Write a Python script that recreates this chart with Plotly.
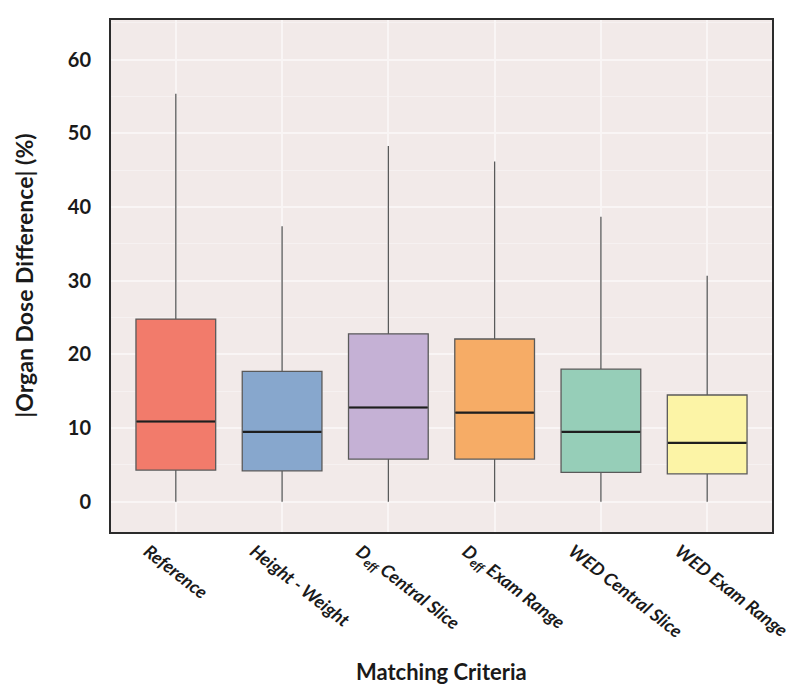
import plotly.graph_objects as go

# box statistics (|organ dose difference|, %)
categories = [
    "Reference",
    "Height - Weight",
    "D<sub>eff</sub> Central Slice",
    "D<sub>eff</sub> Exam Range",
    "WED Central Slice",
    "WED Exam Range",
]
lower = [0.0, 0.0, 0.0, 0.0, 0.0, 0.0]
q1 = [4.3, 4.2, 5.8, 5.8, 4.0, 3.8]
median = [10.9, 9.5, 12.8, 12.1, 9.5, 8.0]
q3 = [24.8, 17.7, 22.8, 22.1, 18.0, 14.5]
upper = [55.4, 37.4, 48.3, 46.2, 38.7, 30.7]

COLORS = ["#f27b6b", "#87a7cd", "#c5b1d5", "#f6ac66", "#96ceb8", "#fcf4a6"]

fig = go.Figure()
for i, cat in enumerate(categories):
    fig.add_trace(
        go.Box(
            x=[cat],
            q1=[q1[i]],
            median=[median[i]],
            q3=[q3[i]],
            lowerfence=[lower[i]],
            upperfence=[upper[i]],
            fillcolor=COLORS[i],
            line=dict(color="#5a5a5a", width=1.3),
            width=0.75,
            whiskerwidth=0,
            showlegend=False,
            hoverinfo="skip",
        )
    )

# darker median bars on top of the boxes (line-ew length = 1.4 * size)
fig.add_scatter(
    x=categories,
    y=median,
    mode="markers",
    marker=dict(symbol="line-ew", size=56, line=dict(color="#1e1e1e", width=2.2)),
    showlegend=False,
    hoverinfo="skip",
)

# page body has an 8px margin, so the figure is a bit smaller than the window
fig.update_layout(
    width=792,
    height=686,
    margin=dict(l=103, r=28, t=12, b=162),
    paper_bgcolor="white",
    plot_bgcolor="#f2eae9",
    font=dict(family="Lato", color="#1a1a1a"),
)
fig.update_xaxes(
    range=[-0.61, 5.61],
    automargin=False,
    showgrid=True,
    gridcolor="#f9f5f5",
    gridwidth=1.5,
    tickangle=38,
    tickfont=dict(size=18, style="italic", weight="bold"),
    ticklabelshift=-28,
    showline=True,
    linecolor="#2b2b2b",
    linewidth=2,
    mirror=True,
    ticks="",
)
fig.update_yaxes(
    range=[-4.1, 65.4],
    automargin=False,
    tickvals=[0, 10, 20, 30, 40, 50, 60],
    showgrid=True,
    gridcolor="#f9f5f5",
    gridwidth=1.5,
    minor=dict(dtick=5, showgrid=True, gridcolor="#f6f1f1", gridwidth=1),
    zeroline=False,
    tickfont=dict(size=20, weight="bold"),
    showline=True,
    linecolor="#2b2b2b",
    linewidth=2,
    mirror=True,
    ticks="",
    ticklabelstandoff=14,
)

# axis titles as annotations (axis standoff is ignored without automargin)
fig.add_annotation(
    text="<b>Matching Criteria</b>",
    xref="paper",
    yref="paper",
    x=0.5,
    y=-0.273,
    yanchor="middle",
    showarrow=False,
    font=dict(size=22),
)
fig.add_annotation(
    text="<b>|Organ Dose Difference| (%)</b>",
    xref="paper",
    yref="paper",
    x=-0.132,
    y=0.5,
    xanchor="center",
    yanchor="middle",
    textangle=-90,
    showarrow=False,
    font=dict(size=23),
)

fig.write_html("out.html")
